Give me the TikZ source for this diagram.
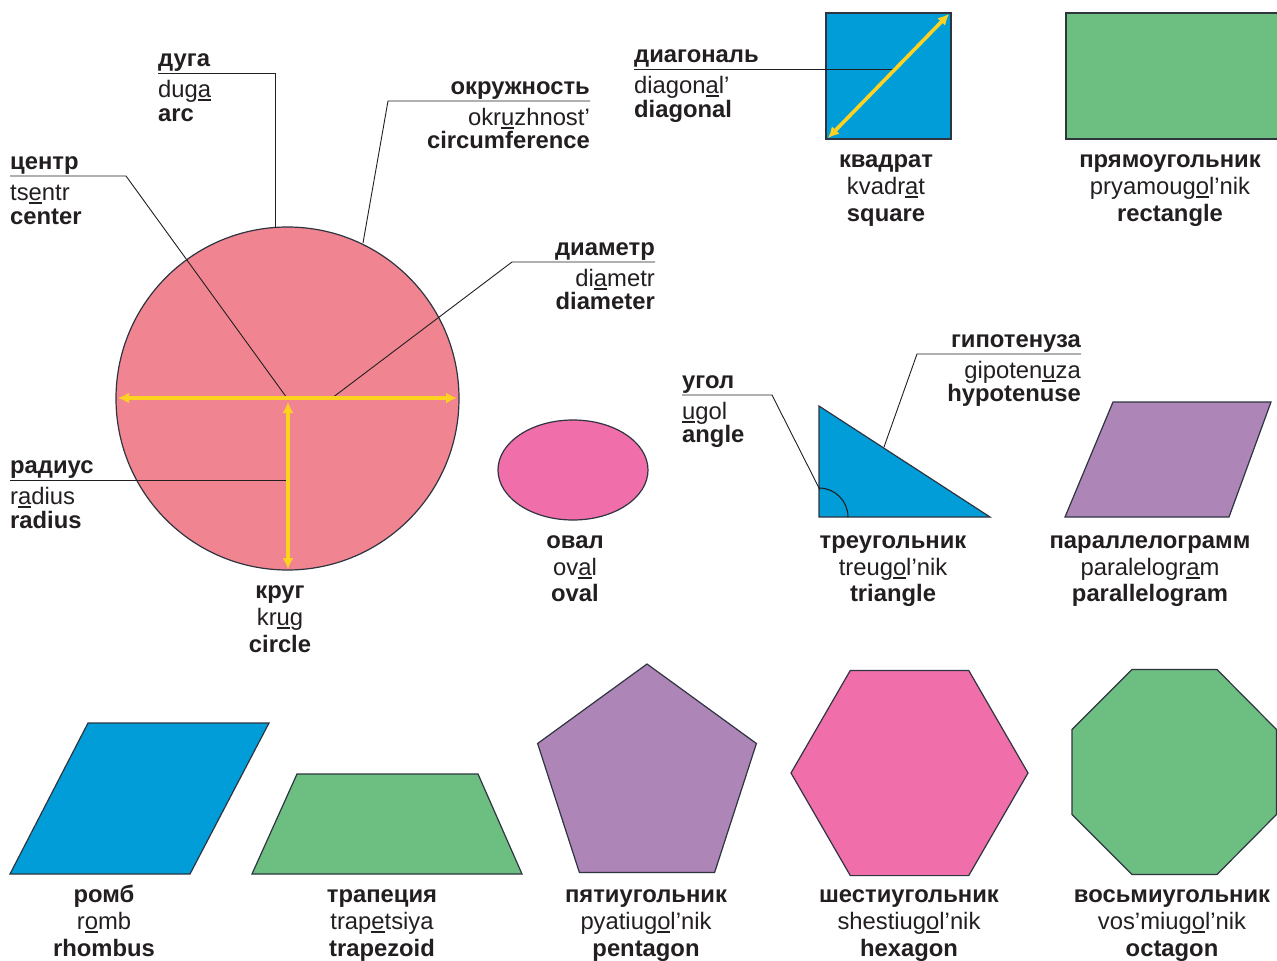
\documentclass[tikz,border=0pt]{standalone}
\usepackage{fontspec}
\setmainfont{Liberation Sans}
\usetikzlibrary{arrows.meta}
\definecolor{txt}{HTML}{231F20}
\definecolor{pinkc}{HTML}{F08591}
\definecolor{pinko}{HTML}{F06EAA}
\definecolor{bluec}{HTML}{009DD9}
\definecolor{greenc}{HTML}{6CBF80}
\definecolor{purplec}{HTML}{AD85B7}
\definecolor{yel}{HTML}{FFD21F}
\definecolor{outl}{HTML}{2E3440}
\newcommand\und[1]{\setbox0=\hbox{#1}\rlap{\rule[-4pt]{\wd0}{1.6pt}}\box0}
\begin{document}
\begin{tikzpicture}[x=1pt,y=-1pt,
  lbl/.style={font=\fontsize{23.8}{24}\selectfont, text=txt, inner sep=0pt},
  bl/.style={lbl, font=\fontsize{23.8}{24}\selectfont\bfseries},
  lead/.style={draw=txt, line width=0.9pt},
  shp/.style={draw=outl, line width=1.2pt},
  yarrow/.style={draw=yel, line width=3.6pt, {Latex[length=11pt,width=11pt]}-{Latex[length=11pt,width=11pt]}}]
\useasboundingbox (0,0) rectangle (1277,961);
\fill[white] (0,0) rectangle (1277,961);

% ---------- shapes ----------
\draw[shp, fill=pinkc] (287.5,398.5) circle[radius=171.5];
\draw[shp, fill=bluec] (826,13) rectangle (951,139);
\draw[shp, fill=greenc] (1066,13) rectangle (1282,139);
\draw[shp, fill=pinko] (573,470) ellipse[x radius=75, y radius=50];
\draw[shp, fill=bluec] (819,406) -- (819,517) -- (990,517) -- cycle;
\draw[shp, fill=purplec] (1113,402) -- (1271,402) -- (1229,517) -- (1065,517) -- cycle;
\draw[shp, fill=bluec] (88,723) -- (269,723) -- (190,874) -- (10,874) -- cycle;
\draw[shp, fill=greenc] (297,774) -- (478,774) -- (522,874) -- (252,874) -- cycle;
\draw[shp, fill=purplec] (647,664) -- (756.4,743.5) -- (714.6,872.5) -- (579.4,872.5) -- (537.6,743.5) -- cycle;
\draw[shp, fill=pinko] (791,773) -- (850.3,670.4) -- (968.7,670.4) -- (1028,773) -- (968.7,875.6) -- (850.3,875.6) -- cycle;
\draw[shp, fill=greenc] (1132,669.5) -- (1217,669.5) -- (1276.5,729.5) -- (1276.5,814.5) -- (1217,874.5) -- (1132,874.5) -- (1072,814.5) -- (1072,729.5) -- cycle;
% angle mark
\draw[txt, line width=1.1pt] (819,488) .. controls (835,488) and (848,501) .. (848,517);

% ---------- coordinates ----------
\coordinate (arcP) at (275,227.5);
\coordinate (cenP) at (287,398);
\coordinate (circP) at (363,243);
\coordinate (diaP) at (332,398);
\coordinate (radP) at (288,480);
\coordinate (dgP) at (893,69);
\coordinate (angP) at (820,490);
\coordinate (hypP) at (884,447);
\coordinate (dL) at (118,398);
\coordinate (dR) at (457,398);
\coordinate (rT) at (288,402);
\coordinate (rB) at (288,569);
\coordinate (sqA) at (828,138);
\coordinate (sqB) at (949,14);

% ---------- leader labels ----------
\node[bl, anchor=base west] (arc1) at (158,66) {дуга};
\node[lbl, anchor=base west] (arc2) at (158,97) {dug\und{a}};
\node[bl, anchor=base west] (arc3) at (158,121) {arc};
\draw[lead] (158,73) coordinate (arcL) -- (275,73) -- (arcP);

\node[bl, anchor=base west] (cen1) at (10,169) {центр};
\node[lbl, anchor=base west] (cen2) at (10,200) {ts\und{e}ntr};
\node[bl, anchor=base west] (cen3) at (10,224) {center};
\draw[lead] (10,176) coordinate (cenL) -- (126,176) -- (cenP);

\node[bl, anchor=base east] (cir1) at (590,94) {окружность};
\node[lbl, anchor=base east] (cir2) at (590,125) {okr\und{u}zhnost’};
\node[bl, anchor=base east] (cir3) at (590,148) {circumference};
\draw[lead] (590,101) coordinate (cirL) -- (388,101) -- (circP);

\node[bl, anchor=base east] (dia1) at (655,255) {диаметр};
\node[lbl, anchor=base east] (dia2) at (655,286) {di\und{a}metr};
\node[bl, anchor=base east] (dia3) at (655,309) {diameter};
\draw[lead] (655,262) coordinate (diaL) -- (512,262) -- (diaP);

\node[bl, anchor=base west] (rad1) at (10,473) {радиус};
\node[lbl, anchor=base west] (rad2) at (10,504) {r\und{a}dius};
\node[bl, anchor=base west] (rad3) at (10,528) {radius};
\draw[lead] (10,480) coordinate (radL) -- (radP);

\node[bl, anchor=base west] (dg1) at (634,62) {диагональ};
\node[lbl, anchor=base west] (dg2) at (634,93) {diagon\und{a}l’};
\node[bl, anchor=base west] (dg3) at (634,117) {diagonal};
\draw[lead] (634,69) coordinate (dgL) -- (dgP);

\node[bl, anchor=base west] (ang1) at (682,388) {угол};
\node[lbl, anchor=base west] (ang2) at (682,419) {\und{u}gol};
\node[bl, anchor=base west] (ang3) at (682,442) {angle};
\draw[lead] (682,395) coordinate (angL) -- (772,395) -- (angP);

\node[bl, anchor=base east] (hyp1) at (1081,347) {гипотенуза};
\node[lbl, anchor=base east] (hyp2) at (1081,378) {gipoten\und{u}za};
\node[bl, anchor=base east] (hyp3) at (1081,401) {hypotenuse};
\draw[lead] (1081,354) coordinate (hypL) -- (917,354) -- (hypP);

% ---------- yellow arrows ----------
\draw[yarrow] (dL) -- (dR);
\draw[yarrow] (rT) -- (rB);
\draw[yarrow] (sqA) -- (sqB);

% ---------- captions ----------
\node[bl, anchor=base] (c1) at (280,598) {круг};
\node[lbl, anchor=base] (c2) at (280,625) {kr\und{u}g};
\node[bl, anchor=base] (c3) at (280,652) {circle};

\node[bl, anchor=base] (s1) at (886,167) {квадрат};
\node[lbl, anchor=base] (s2) at (886,194) {kvadr\und{a}t};
\node[bl, anchor=base] (s3) at (886,221) {square};

\node[bl, anchor=base] (r1) at (1170,167) {прямоугольник};
\node[lbl, anchor=base] (r2) at (1170,194) {pryamoug\und{o}l’nik};
\node[bl, anchor=base] (r3) at (1170,221) {rectangle};

\node[bl, anchor=base] (o1) at (575,548) {овал};
\node[lbl, anchor=base] (o2) at (575,575) {ov\und{a}l};
\node[bl, anchor=base] (o3) at (575,601) {oval};

\node[bl, anchor=base] (t1) at (893,548) {треугольник};
\node[lbl, anchor=base] (t2) at (893,575) {treug\und{o}l’nik};
\node[bl, anchor=base] (t3) at (893,601) {triangle};

\node[bl, anchor=base] (p1) at (1150,548) {параллелограмм};
\node[lbl, anchor=base] (p2) at (1150,575) {paralelogr\und{a}m};
\node[bl, anchor=base] (p3) at (1150,601) {parallelogram};

\node[bl, anchor=base] (rh1) at (104,902) {ромб};
\node[lbl, anchor=base] (rh2) at (104,929) {r\und{o}mb};
\node[bl, anchor=base] (rh3) at (104,956) {rhombus};

\node[bl, anchor=base] (tr1) at (382,902) {трапеция};
\node[lbl, anchor=base] (tr2) at (382,929) {trap\und{e}tsiya};
\node[bl, anchor=base] (tr3) at (382,956) {trapezoid};

\node[bl, anchor=base] (pe1) at (646,902) {пятиугольник};
\node[lbl, anchor=base] (pe2) at (646,929) {pyatiug\und{o}l’nik};
\node[bl, anchor=base] (pe3) at (646,956) {pentagon};

\node[bl, anchor=base] (hx1) at (909,902) {шестиугольник};
\node[lbl, anchor=base] (hx2) at (909,929) {shestiug\und{o}l’nik};
\node[bl, anchor=base] (hx3) at (909,956) {hexagon};

\node[bl, anchor=base] (oc1) at (1172,902) {восьмиугольник};
\node[lbl, anchor=base] (oc2) at (1172,929) {vos’miug\und{o}l’nik};
\node[bl, anchor=base] (oc3) at (1172,956) {octagon};
\end{tikzpicture}
\end{document}
